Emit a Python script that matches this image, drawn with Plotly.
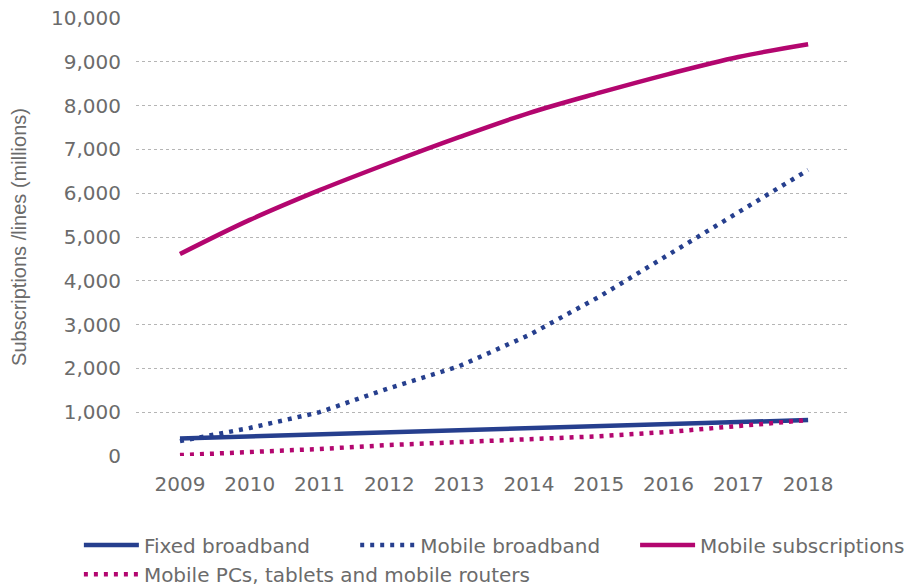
import plotly.graph_objects as go

years = [2009, 2010, 2011, 2012, 2013, 2014, 2015, 2016, 2017, 2018]
fixed_broadband = [400, 445, 490, 535, 580, 625, 670, 720, 770, 820]
mobile_broadband = [340, 640, 1000, 1550, 2050, 2760, 3630, 4590, 5570, 6530]
mobile_subscriptions = [4610, 5390, 6070, 6690, 7280, 7830, 8290, 8720, 9110, 9400]
mobile_pcs = [20, 80, 160, 250, 310, 370, 450, 550, 680, 820]

y_ticks = [0, 1000, 2000, 3000, 4000, 5000, 6000, 7000, 8000, 9000, 10000]

NAVY = "#263f8e"
MAGENTA = "#b3066f"
FONT = "DejaVu Sans, Verdana, sans-serif"
TITLE_FONT = "Liberation Sans, Arial, sans-serif"
GREY = "#6b6b6b"
DOTS = "4px,6px"

fig = go.Figure()
fig.add_trace(go.Scatter(
    x=years, y=fixed_broadband, name="Fixed broadband", mode="lines",
    line=dict(color=NAVY, width=4.5), legend="legend"))
fig.add_trace(go.Scatter(
    x=years, y=mobile_broadband, name="Mobile broadband", mode="lines",
    line=dict(color=NAVY, width=4.5, dash=DOTS), legend="legend2"))
fig.add_trace(go.Scatter(
    x=years, y=mobile_subscriptions, name="Mobile subscriptions", mode="lines",
    line=dict(color=MAGENTA, width=4.5, shape="spline"), legend="legend3"))
fig.add_trace(go.Scatter(
    x=years, y=mobile_pcs, name="Mobile PCs, tablets and mobile routers", mode="lines",
    line=dict(color=MAGENTA, width=4.5, dash=DOTS), legend="legend4"))


def legend_box(x, y):
    return dict(orientation="h", x=x, xanchor="left", y=y, yanchor="middle",
                itemwidth=55,
                font=dict(family=FONT, size=20, color=GREY),
                bgcolor="rgba(0,0,0,0)")


fig.update_layout(
    width=916, height=588,
    margin=dict(l=136, r=66, t=18, b=132, autoexpand=False),
    paper_bgcolor="white", plot_bgcolor="white",
    font=dict(family=FONT, size=20, color=GREY),
    showlegend=True,
    legend=legend_box(-0.080, -0.203),
    legend2=legend_box(0.307, -0.203),
    legend3=legend_box(0.699, -0.203),
    legend4=legend_box(-0.080, -0.270),
)

fig.update_xaxes(
    range=[2008.37, 2018.6], tickmode="array", tickvals=years,
    ticktext=[str(y) for y in years], showgrid=False, zeroline=False,
    showline=False, ticks="outside", ticklen=10, tickcolor="rgba(0,0,0,0)",
    tickfont=dict(family=FONT, size=20, color=GREY))

fig.update_yaxes(
    range=[0, 10000], tickmode="array", tickvals=y_ticks,
    ticktext=[f"{v:,}" for v in y_ticks], showgrid=True,
    gridcolor="#b5b5b5", griddash="dot", gridwidth=1, zeroline=False,
    showline=False, ticks="outside", ticklen=10, tickcolor="rgba(0,0,0,0)",
    tickfont=dict(family=FONT, size=20, color=GREY),
    title=dict(text="Subscriptions /lines (millions)", standoff=19,
               font=dict(family=TITLE_FONT, size=20, color=GREY)))

fig.write_html("out.html")
